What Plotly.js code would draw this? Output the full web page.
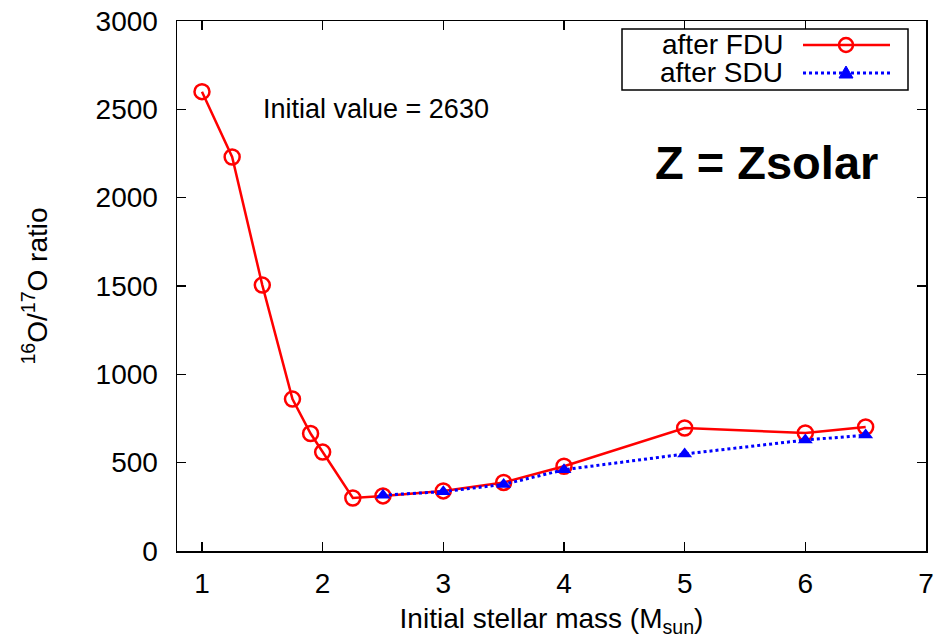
<!DOCTYPE html>
<html>
<head>
<meta charset="utf-8">
<script src="https://cdn.plot.ly/plotly-3.0.1.min.js"></script>
<style>html,body{margin:0;padding:0;background:#fff;}#chart{width:937px;height:642px;}</style>
</head>
<body>
<div id="chart"></div>
<script>
// Data
const massFDU = [1, 1.25, 1.5, 1.75, 1.9, 2.0, 2.25, 2.5, 3, 3.5, 4, 5, 6, 6.5];
const ratioFDU = [2600, 2230, 1505, 860, 665, 560, 300, 312, 340, 388, 480, 696, 668, 702];
const massSDU = [2.5, 3, 3.5, 4, 5, 6, 6.5];
const ratioSDU = [316, 336, 377, 460, 549, 628, 656];
const xTicks = [1, 2, 3, 4, 5, 6, 7];
const yTicks = [0, 500, 1000, 1500, 2000, 2500, 3000];
const seriesNames = ["after FDU", "after SDU"];

const FONT = "Liberation Sans, Arial, Helvetica, sans-serif";
const RED = "#ff0000", BLUE = "#0000ff";

const traces = [
  {
    x: massFDU, y: ratioFDU, name: seriesNames[0], type: "scatter", mode: "lines+markers",
    line: {color: RED, width: 2.5},
    marker: {symbol: "circle-open", size: 15, color: RED, line: {width: 2.5, color: RED}},
    showlegend: false
  },
  {
    x: massSDU, y: ratioSDU, name: seriesNames[1], type: "scatter", mode: "lines+markers",
    line: {color: BLUE, width: 3, dash: "dot"},
    marker: {symbol: "triangle-up", size: 13, color: BLUE},
    showlegend: false
  }
];

// Custom legend (text on the left, sample on the right, as in the reference)
const lx0 = (622 - 177) / 749, lx1 = (908 - 177) / 749;
const ly0 = (551 - 90) / 530, ly1 = (551 - 29) / 530;
const row1 = (551 - 45) / 530, row2 = (551 - 73) / 530;
const sx0 = (803 - 177) / 749, sx1 = (890 - 177) / 749, sxm = (846 - 177) / 749;

const layout = {
  width: 937, height: 642,
  margin: {l: 177, r: 11, t: 21, b: 91},
  paper_bgcolor: "#fff", plot_bgcolor: "#fff",
  font: {family: FONT, color: "#000"},
  showlegend: false,
  xaxis: {
    range: [0.793, 7], tickvals: xTicks, ticktext: xTicks.map(String),
    ticks: "inside", ticklen: 9, tickwidth: 1.2, tickcolor: "#000",
    mirror: "allticks", showline: true, linecolor: "#000", linewidth: 1.5,
    showgrid: false, zeroline: false,
    tickfont: {size: 28, family: FONT, color: "#000"},
    ticklabelstandoff: 7,
    title: {text: "Initial stellar mass (M<sub>sun</sub>)", font: {size: 28, family: FONT, color: "#000"}, standoff: 10}
  },
  yaxis: {
    range: [0, 3000], tickvals: yTicks, ticktext: yTicks.map(String),
    ticks: "inside", ticklen: 9, tickwidth: 1.2, tickcolor: "#000",
    mirror: "allticks", showline: true, linecolor: "#000", linewidth: 1.5,
    showgrid: false, zeroline: false,
    tickfont: {size: 28, family: FONT, color: "#000"},
    ticklabelstandoff: 12,
    title: {text: "<sup>16</sup>O/<sup>17</sup>O ratio", font: {size: 28, family: FONT, color: "#000"}, standoff: 40}
  },
  shapes: [
    {type: "rect", xref: "paper", yref: "paper", x0: lx0, x1: lx1, y0: ly0, y1: ly1,
     line: {color: "#000", width: 1.5}, fillcolor: "#fff", layer: "above"},
    {type: "line", xref: "paper", yref: "paper", x0: sx0, x1: sx1, y0: row1, y1: row1,
     line: {color: RED, width: 2.5}, layer: "above"},
    {type: "circle", xref: "paper", yref: "paper", xsizemode: "pixel", ysizemode: "pixel",
     xanchor: sxm, yanchor: row1, x0: -7, x1: 7, y0: -7, y1: 7,
     line: {color: RED, width: 2.5}, fillcolor: "rgba(0,0,0,0)", layer: "above"},
    {type: "line", xref: "paper", yref: "paper", x0: sx0, x1: sx1, y0: row2, y1: row2,
     line: {color: BLUE, width: 3, dash: "dot"}, layer: "above"},
    {type: "path", xref: "paper", yref: "paper", xsizemode: "pixel", ysizemode: "pixel",
     xanchor: sxm, yanchor: row2, path: "M -7 -5 L 7 -5 L 0 7 Z",
     line: {color: BLUE, width: 1}, fillcolor: BLUE, layer: "above"}
  ],
  annotations: [
    {xref: "paper", yref: "paper", x: (785 - 177) / 749, y: row1, xanchor: "right", yanchor: "middle",
     text: seriesNames[0], showarrow: false, font: {size: 28, family: FONT, color: "#000"}},
    {xref: "paper", yref: "paper", x: (785 - 177) / 749, y: row2, xanchor: "right", yanchor: "middle",
     text: seriesNames[1], showarrow: false, font: {size: 28, family: FONT, color: "#000"}},
    {xref: "paper", yref: "paper", x: (261 - 177) / 749, y: (551 - 109) / 530, xanchor: "left", yanchor: "middle",
     text: "Initial value = 2630", showarrow: false, font: {size: 27, family: FONT, color: "#000"}},
    {xref: "paper", yref: "paper", x: (880 - 177) / 749, y: (551 - 162) / 530, xanchor: "right", yanchor: "middle",
     text: "<b>Z = Zsolar</b>", showarrow: false, font: {size: 47, family: FONT, color: "#000"}}
  ]
};

Plotly.newPlot("chart", traces, layout, {displayModeBar: false, staticPlot: true});
</script>
</body>
</html>
